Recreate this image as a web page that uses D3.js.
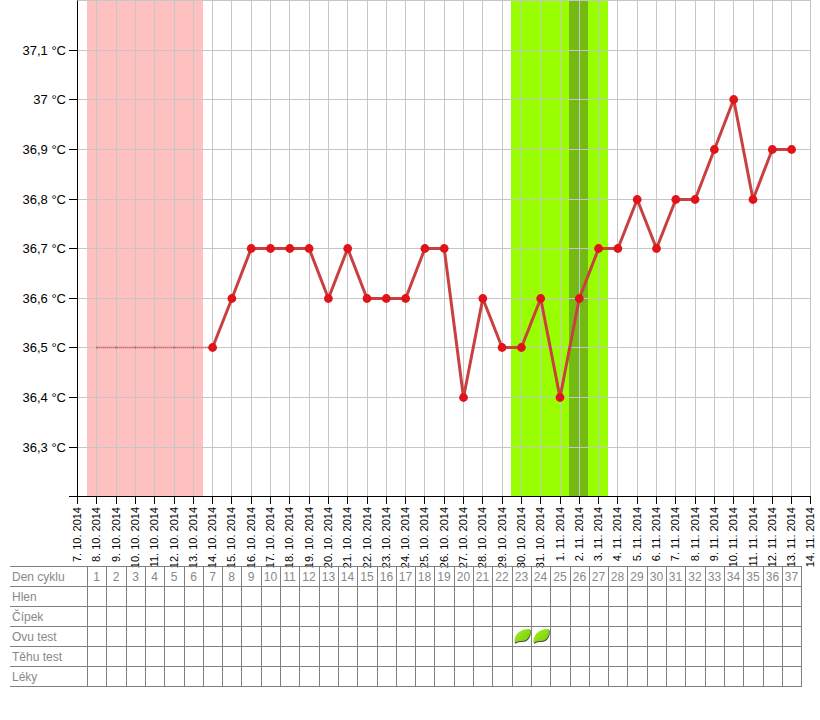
<!DOCTYPE html>
<html lang="cs">
<head>
<meta charset="utf-8">
<title>Teplotní křivka</title>
<script src="https://cdn.jsdelivr.net/npm/d3@7"></script>
<style>
html,body{margin:0;padding:0;background:#fff;}
svg{display:block;background:#fff;font-family:"Liberation Sans",Arial,sans-serif;}
</style>
</head>
<body>
<svg id="chart" width="820" height="720"></svg>
<script>
const dateLabels = ["7. 10. 2014","8. 10. 2014","9. 10. 2014","10. 10. 2014","11. 10. 2014","12. 10. 2014","13. 10. 2014","14. 10. 2014","15. 10. 2014","16. 10. 2014","17. 10. 2014","18. 10. 2014","19. 10. 2014","20. 10. 2014","21. 10. 2014","22. 10. 2014","23. 10. 2014","24. 10. 2014","25. 10. 2014","26. 10. 2014","27. 10. 2014","28. 10. 2014","29. 10. 2014","30. 10. 2014","31. 10. 2014","1. 11. 2014","2. 11. 2014","3. 11. 2014","4. 11. 2014","5. 11. 2014","6. 11. 2014","7. 11. 2014","8. 11. 2014","9. 11. 2014","10. 11. 2014","11. 11. 2014","12. 11. 2014","13. 11. 2014","14. 11. 2014"];
const tempLabels = ["36,3 °C","36,4 °C","36,5 °C","36,6 °C","36,7 °C","36,8 °C","36,9 °C","37 °C","37,1 °C"];
const tempTicks = [36.3,36.4,36.5,36.6,36.7,36.8,36.9,37.0,37.1];
const measuredDays = [7,8,9,10,11,12,13,14,15,16,17,18,19,20,21,22,23,24,25,26,27,28,29,30,31,32,33,34,35,36,37];
const measuredTemps = [36.5,36.6,36.7,36.7,36.7,36.7,36.6,36.7,36.6,36.6,36.6,36.7,36.7,36.4,36.6,36.5,36.5,36.6,36.4,36.6,36.7,36.7,36.8,36.7,36.8,36.8,36.9,37.0,36.8,36.9,36.9];
const placeholderDays = [1,2,3,4,5,6,7];
const placeholderTemps = [36.5,36.5,36.5,36.5,36.5,36.5,36.5];
const menstruationBand = [0.5,6.5];
const fertileBand = [22.5,27.5];
const ovulationBand = [25.5,26.48];
const rowNames = ["Den cyklu","Hlen","Čípek","Ovu test","Těhu test","Léky"];
const cycleDays = d3.range(1,38);
const ovuTestDays = [23,24];

const svg = d3.select("#chart");
const x = d3.scaleLinear().domain([0,38]).range([77,810.4]).interpolate(d3.interpolateRound);
const y = d3.scaleLinear().domain([36.2,37.2]).range([496.3,0]).interpolate(d3.interpolateRound);
const xSmooth = d3.scaleLinear().domain([0,38]).range([77.5,810.9]);
const xBand = d3.scaleLinear().domain([0,38]).range([77.2,810.6]).interpolate(d3.interpolateRound);

function band(b,fill){
  svg.append("rect").attr("x",xBand(b[0])).attr("y",0)
    .attr("width",xBand(b[1])-xBand(b[0])).attr("height",496).attr("fill",fill);
}
band(menstruationBand,"#ffc0c0");
band(fertileBand,"#99ff00");
band(ovulationBand,"#73bb14");

const grid = svg.append("g").attr("stroke","#c6c6c6").attr("stroke-width",1).attr("shape-rendering","crispEdges");
grid.selectAll("line.v").data(d3.range(1,39)).join("line").attr("class","v")
  .attr("x1",d=>x(d)+.5).attr("x2",d=>x(d)+.5).attr("y1",0).attr("y2",496);
grid.selectAll("line.h").data([37.2].concat(tempTicks)).join("line").attr("class","h")
  .attr("x1",77).attr("x2",811).attr("y1",d=>y(d)+.5).attr("y2",d=>y(d)+.5);

const line = d3.line().x(d=>xSmooth(d[0])).y(d=>y(d[1])+.5);
const placeholder = d3.zip(placeholderDays,placeholderTemps);
svg.append("path").attr("d",line(placeholder)).attr("fill","none").attr("stroke","#d87a80").attr("stroke-opacity",.3).attr("stroke-width",3);
svg.append("path").attr("d",line(placeholder)).attr("fill","none").attr("stroke","#c83a3a").attr("stroke-opacity",.7).attr("stroke-width",1).attr("stroke-dasharray","1 1");
svg.selectAll("circle.p").data(placeholder.slice(0,6)).join("circle").attr("class","p")
  .attr("cx",d=>xSmooth(d[0])).attr("cy",d=>y(d[1])+.5).attr("r",1).attr("fill","#d02a2a").attr("fill-opacity",.5);

const measured = d3.zip(measuredDays,measuredTemps);
svg.append("path").attr("d",line(measured)).attr("fill","none").attr("stroke","#c84040").attr("stroke-width",3).attr("stroke-linejoin","round");
svg.selectAll("circle.m").data(measured).join("circle").attr("class","m")
  .attr("cx",d=>xSmooth(d[0])).attr("cy",d=>y(d[1])+.5).attr("r",4.4).attr("fill","#e01418");

const yAxis = d3.axisLeft(y).tickValues([36.2].concat(tempTicks))
  .tickFormat(d=>{const i=tempTicks.indexOf(d);return i<0?"":tempLabels[i];}).tickSize(8).tickPadding(3).tickSizeOuter(0);
const gy = svg.append("g").attr("transform","translate(77,0)").call(yAxis);
gy.selectAll("text").attr("font-size",13).attr("font-family","'Liberation Sans',Arial,sans-serif").attr("fill","#000");

const xAxis = d3.axisBottom(x).tickValues(d3.range(0,39)).tickFormat(d=>dateLabels[d]).tickSize(8).tickSizeOuter(0);
const gx = svg.append("g").attr("transform","translate(0,496)").call(xAxis);
gx.selectAll("text").attr("font-size",11).attr("font-family","'Liberation Sans',Arial,sans-serif").attr("fill","#000")
  .attr("text-anchor","end").attr("dy",null).attr("y",0).attr("x",0)
  .attr("transform","translate(3.5,11) rotate(-90)");
gy.select(".domain").attr("stroke","#000");

// table
const tx = d3.scaleLinear().domain([0,37]).range([87,801.1]).interpolate(d3.interpolateRound);
const ty = d3.scaleLinear().domain([0,6]).range([566,686]);
const tbl = svg.append("g").attr("stroke","#808080").attr("shape-rendering","crispEdges");
tbl.selectAll("line.r").data(d3.range(0,7)).join("line").attr("class","r")
  .attr("x1",10).attr("x2",802).attr("y1",d=>ty(d)+.5).attr("y2",d=>ty(d)+.5);
tbl.selectAll("line.c").data(d3.range(0,38)).join("line").attr("class","c")
  .attr("x1",d=>tx(d)+.5).attr("x2",d=>tx(d)+.5).attr("y1",566).attr("y2",686);
svg.selectAll("text.row").data(rowNames).join("text").attr("class","row")
  .attr("x",12).attr("y",(d,i)=>ty(i)+15).attr("font-size",12).attr("fill","#888").text(d=>d);
svg.selectAll("text.day").data(cycleDays).join("text").attr("class","day")
  .attr("x",d=>(tx(d-1)+tx(d))/2).attr("y",ty(0)+15).attr("text-anchor","middle").attr("font-size",12).attr("fill","#888").text(d=>d);

const defs = svg.append("defs");
const grad = defs.append("linearGradient").attr("id","leaf").attr("x1",0).attr("y1",0).attr("x2",1).attr("y2",1);
grad.append("stop").attr("offset","0%").attr("stop-color","#a4f020");
grad.append("stop").attr("offset","100%").attr("stop-color","#74cc08");
const leafPath = "M-8,7.5 C-8.5,1 -5,-6.5 7.5,-6.5 C8.5,-1 6,5.5 -1,5.5 C-3,5.5 -5,5.5 -8,7.5 Z";
const rowOvu = rowNames.indexOf("Ovu test");
const leaves = svg.selectAll("g.leaf").data(ovuTestDays).join("g").attr("class","leaf")
  .attr("transform",d=>`translate(${(tx(d-1)+tx(d))/2+1},${ty(rowOvu)+9.5})`);
leaves.append("path").attr("d",leafPath).attr("transform","translate(.6,1)").attr("fill","#222").attr("fill-opacity",.8);
leaves.append("path").attr("d",leafPath).attr("fill","url(#leaf)");
</script>
</body>
</html>
